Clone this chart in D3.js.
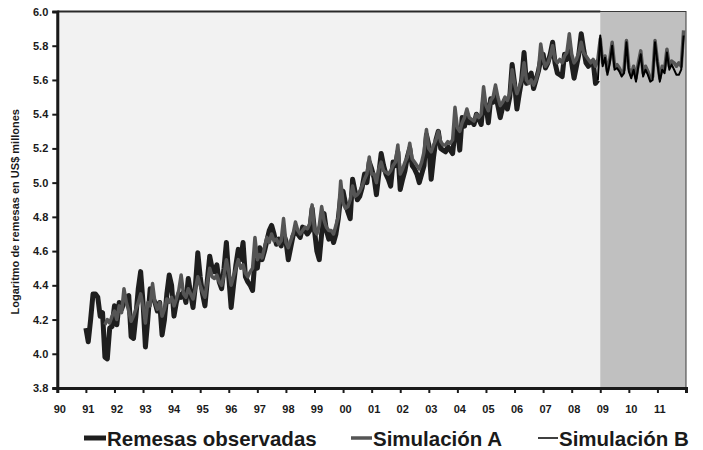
<!DOCTYPE html>
<html>
<head>
<meta charset="utf-8">
<script src="https://cdn.jsdelivr.net/npm/d3@7"></script>
<style>
  html, body { margin: 0; padding: 0; background: #ffffff; }
  svg { display: block; }
  text { font-family: "Liberation Sans", Arial, sans-serif; fill: #1a1a1a; }
</style>
</head>
<body>
<svg id="chart" width="703" height="450"></svg>
<script>
// ---------- DATA ----------
const yTickValues = [3.8, 4.0, 4.2, 4.4, 4.6, 4.8, 5.0, 5.2, 5.4, 5.6, 5.8, 6.0];
const xTickYears = d3.range(1990, 2013);
const xTickLabels = ["90","91","92","93","94","95","96","97","98","99","00","01","02","03","04","05","06","07","08","09","10","11"];
const forecastStart = 2009;
const legendLabels = ["Remesas observadas", "Simulación A", "Simulación B"];

// Remesas observadas: monthly, Jan 1991 - Dec 2008
const obsStart = 1991;
const observadas = [
  4.15, 4.07, 4.20, 4.35, 4.35, 4.33, 4.22, 4.24, 3.98, 3.97, 4.15, 4.16,
  4.28, 4.17, 4.30, 4.26, 4.30, 4.33, 4.34, 4.10, 4.09, 4.22, 4.38, 4.48,
  4.30, 4.04, 4.20, 4.38, 4.33, 4.30, 4.25, 4.30, 4.11, 4.20, 4.35, 4.46,
  4.40, 4.22, 4.30, 4.35, 4.33, 4.36, 4.30, 4.44, 4.35, 4.27, 4.40, 4.59,
  4.45, 4.35, 4.28, 4.43, 4.57, 4.50, 4.48, 4.52, 4.42, 4.38, 4.50, 4.65,
  4.45, 4.27, 4.40, 4.52, 4.61, 4.55, 4.65, 4.45, 4.42, 4.40, 4.37, 4.55,
  4.50, 4.62, 4.55, 4.60, 4.66, 4.72, 4.75, 4.70, 4.64, 4.67, 4.63, 4.70,
  4.66, 4.55, 4.62, 4.69, 4.72, 4.70, 4.68, 4.74, 4.72, 4.70, 4.72, 4.85,
  4.72, 4.60, 4.55, 4.70, 4.82, 4.72, 4.67, 4.70, 4.65, 4.70, 4.79, 4.92,
  4.95, 4.88, 4.83, 4.79, 5.02, 4.95, 4.90, 4.92, 4.97, 5.05, 5.00, 5.12,
  5.08, 5.03, 4.93, 5.05, 5.17, 5.10, 5.05, 5.02, 4.98, 5.12, 5.10, 5.18,
  4.96, 5.02, 5.07, 5.15, 5.20, 5.10, 5.08, 5.05, 5.00, 5.05, 5.10, 5.28,
  5.22, 5.02, 5.15, 5.25, 5.30, 5.20, 5.19, 5.18, 5.21, 5.19, 5.17, 5.30,
  5.32, 5.19, 5.38, 5.33, 5.40, 5.35, 5.36, 5.34, 5.40, 5.37, 5.34, 5.48,
  5.45, 5.35, 5.49, 5.47, 5.52, 5.45, 5.38, 5.44, 5.48, 5.43, 5.50, 5.69,
  5.58, 5.43, 5.52, 5.60, 5.76, 5.58, 5.62, 5.64, 5.55, 5.60, 5.65, 5.72,
  5.75, 5.67, 5.70, 5.75, 5.82, 5.70, 5.64, 5.63, 5.62, 5.75, 5.72, 5.80,
  5.70, 5.61, 5.68, 5.75, 5.87, 5.78, 5.70, 5.68, 5.70, 5.71, 5.58, 5.60
];

// Simulación A: monthly, Sep 1991 - Dec 2011
const simAStart = 1991 + 8 / 12;
const simulacionA = [
                                                  4.17, 4.20, 4.18, 4.22,
  4.25, 4.20, 4.28, 4.24, 4.38, 4.30, 4.25, 4.19, 4.22, 4.26, 4.30, 4.35,
  4.28, 4.18, 4.30, 4.28, 4.41, 4.30, 4.26, 4.30, 4.22, 4.26, 4.32, 4.30,
  4.33, 4.28, 4.32, 4.37, 4.46, 4.35, 4.33, 4.38, 4.35, 4.32, 4.38, 4.45,
  4.40, 4.36, 4.33, 4.42, 4.50, 4.45, 4.44, 4.46, 4.42, 4.40, 4.46, 4.55,
  4.48, 4.40, 4.45, 4.50, 4.55, 4.50, 4.52, 4.47, 4.45, 4.48, 4.50, 4.68,
  4.55, 4.58, 4.56, 4.62, 4.68, 4.65, 4.70, 4.66, 4.67, 4.64, 4.66, 4.79,
  4.65, 4.62, 4.66, 4.70, 4.77, 4.72, 4.70, 4.72, 4.74, 4.73, 4.76, 4.87,
  4.72, 4.70, 4.75, 4.86, 4.78, 4.74, 4.72, 4.72, 4.70, 4.75, 4.80, 5.01,
  4.88, 4.85, 4.86, 4.90, 4.98, 4.92, 4.93, 4.95, 4.98, 5.02, 5.05, 5.15,
  5.05, 5.05, 5.00, 5.08, 5.12, 5.07, 5.06, 5.05, 5.07, 5.10, 5.12, 5.22,
  5.05, 5.08, 5.12, 5.15, 5.23, 5.14, 5.12, 5.10, 5.08, 5.12, 5.18, 5.31,
  5.20, 5.18, 5.22, 5.25, 5.30, 5.24, 5.22, 5.22, 5.24, 5.23, 5.25, 5.44,
  5.32, 5.30, 5.35, 5.38, 5.43, 5.38, 5.37, 5.36, 5.40, 5.38, 5.40, 5.56,
  5.45, 5.42, 5.48, 5.50, 5.57, 5.50, 5.45, 5.47, 5.50, 5.48, 5.52, 5.66,
  5.58, 5.52, 5.56, 5.60, 5.70, 5.60, 5.58, 5.60, 5.57, 5.60, 5.65, 5.81,
  5.72, 5.68, 5.70, 5.74, 5.80, 5.72, 5.70, 5.72, 5.70, 5.74, 5.76, 5.87,
  5.75, 5.70, 5.72, 5.76, 5.82, 5.76, 5.74, 5.72, 5.70, 5.72, 5.68, 5.72,
  5.84, 5.70, 5.74, 5.65, 5.72, 5.82, 5.68, 5.69, 5.67, 5.64, 5.66, 5.83,
  5.67, 5.63, 5.68, 5.61, 5.70, 5.77, 5.64, 5.68, 5.65, 5.61, 5.62, 5.83,
  5.71, 5.61, 5.68, 5.66, 5.78, 5.68, 5.71, 5.70, 5.68, 5.70, 5.68, 5.89
];

// Simulación B: monthly, Dec 2008 - Dec 2011
const simBStart = 2008 + 11 / 12;
const simulacionB = [
                                                                    5.60,
  5.86, 5.68, 5.73, 5.63, 5.70, 5.80, 5.66, 5.67, 5.65, 5.62, 5.64, 5.82,
  5.65, 5.61, 5.66, 5.59, 5.68, 5.75, 5.62, 5.66, 5.63, 5.59, 5.60, 5.82,
  5.70, 5.59, 5.66, 5.64, 5.76, 5.66, 5.69, 5.66, 5.63, 5.63, 5.66, 5.86
];

// ---------- CHART ----------
const svg = d3.select("#chart");
const plot = { left: 57.3, right: 686, top: 11.5, bottom: 388 };

const x = d3.scaleLinear().domain([1990, 2012]).range([plot.left, plot.right]);
const y = d3.scaleLinear().domain([3.8, 6.0]).range([plot.bottom, plot.top]);

const toPoints = (vals, start) => vals.map((v, i) => ({ t: start + i / 12, v }));

// plot background
svg.append("rect")
  .attr("x", x(1990)).attr("y", y(6.0))
  .attr("width", x(2012) - x(1990)).attr("height", y(3.8) - y(6.0))
  .attr("fill", "#f2f2f2");

// forecast shading
svg.append("rect")
  .attr("x", x(forecastStart)).attr("y", y(6.0))
  .attr("width", x(2012) - x(forecastStart)).attr("height", y(3.8) - y(6.0))
  .attr("fill", "#c0c0c0");

// plot frame
svg.append("rect")
  .attr("x", x(1990)).attr("y", y(6.0))
  .attr("width", x(2012) - x(1990)).attr("height", y(3.8) - y(6.0))
  .attr("fill", "none").attr("stroke", "#3a3a3a").attr("stroke-width", 1);
svg.append("line")
  .attr("x1", x(1990)).attr("x2", x(forecastStart))
  .attr("y1", y(6.0)).attr("y2", y(6.0))
  .attr("stroke", "#2a2a2a").attr("stroke-width", 2);

const line = d3.line().x(d => x(d.t)).y(d => y(d.v));

svg.append("path")
  .datum(toPoints(observadas, obsStart))
  .attr("d", line)
  .attr("fill", "none").attr("stroke", "#1e1e1e")
  .attr("stroke-width", 5).attr("stroke-linejoin", "round");

svg.append("path")
  .datum(toPoints(simulacionA, simAStart))
  .attr("d", line)
  .attr("fill", "none").attr("stroke", "#555555")
  .attr("stroke-width", 3.5).attr("stroke-linejoin", "round");

svg.append("path")
  .datum(toPoints(simulacionB, simBStart))
  .attr("d", line)
  .attr("fill", "none").attr("stroke", "#000000")
  .attr("stroke-width", 2).attr("stroke-linejoin", "round");

// axes
const yAxis = d3.axisLeft(y).tickValues(yTickValues)
  .tickFormat(d3.format(".1f")).tickSize(5).tickPadding(4);
const gy = svg.append("g").attr("transform", `translate(${plot.left},0)`).call(yAxis);

const xAxis = d3.axisBottom(x).tickValues(xTickYears)
  .tickFormat((d, i) => xTickLabels[i] || "").tickSize(5).tickPadding(12);
const gx = svg.append("g").attr("transform", `translate(0,${plot.bottom})`).call(xAxis);

[gx, gy].forEach(g => {
  g.select(".domain").attr("stroke", "#1a1a1a").attr("stroke-width", 3);
  g.selectAll(".tick line").attr("stroke", "#1a1a1a").attr("stroke-width", 2);
  g.selectAll(".tick text")
    .style("font-family", '"Liberation Sans", Arial, sans-serif')
    .style("font-size", "11px").style("font-weight", "bold").attr("fill", "#1a1a1a");
});
gx.selectAll(".tick text").attr("dx", 2);

// y-axis title
svg.append("text")
  .attr("transform", `translate(19,${(plot.top + plot.bottom) / 2 + 12}) rotate(-90)`)
  .attr("text-anchor", "middle")
  .style("font-size", "11px").style("font-weight", "bold")
  .text("Logaritmo de remesas en US$ millones");

// legend
const legendItems = [
  { label: legendLabels[0], x1: 84, x2: 106, color: "#1e1e1e", w: 5 },
  { label: legendLabels[1], x1: 351, x2: 372, color: "#555555", w: 3.5 },
  { label: legendLabels[2], x1: 538, x2: 558, color: "#000000", w: 1.5 }
];
const legY = 438;
legendItems.forEach(it => {
  svg.append("line")
    .attr("x1", it.x1).attr("x2", it.x2).attr("y1", legY).attr("y2", legY)
    .attr("stroke", it.color).attr("stroke-width", it.w);
  svg.append("text")
    .attr("x", it.x2 + 1).attr("y", legY + 7.5)
    .style("font-size", "20.5px").style("font-weight", "bold")
    .text(it.label);
});
</script>
</body>
</html>
